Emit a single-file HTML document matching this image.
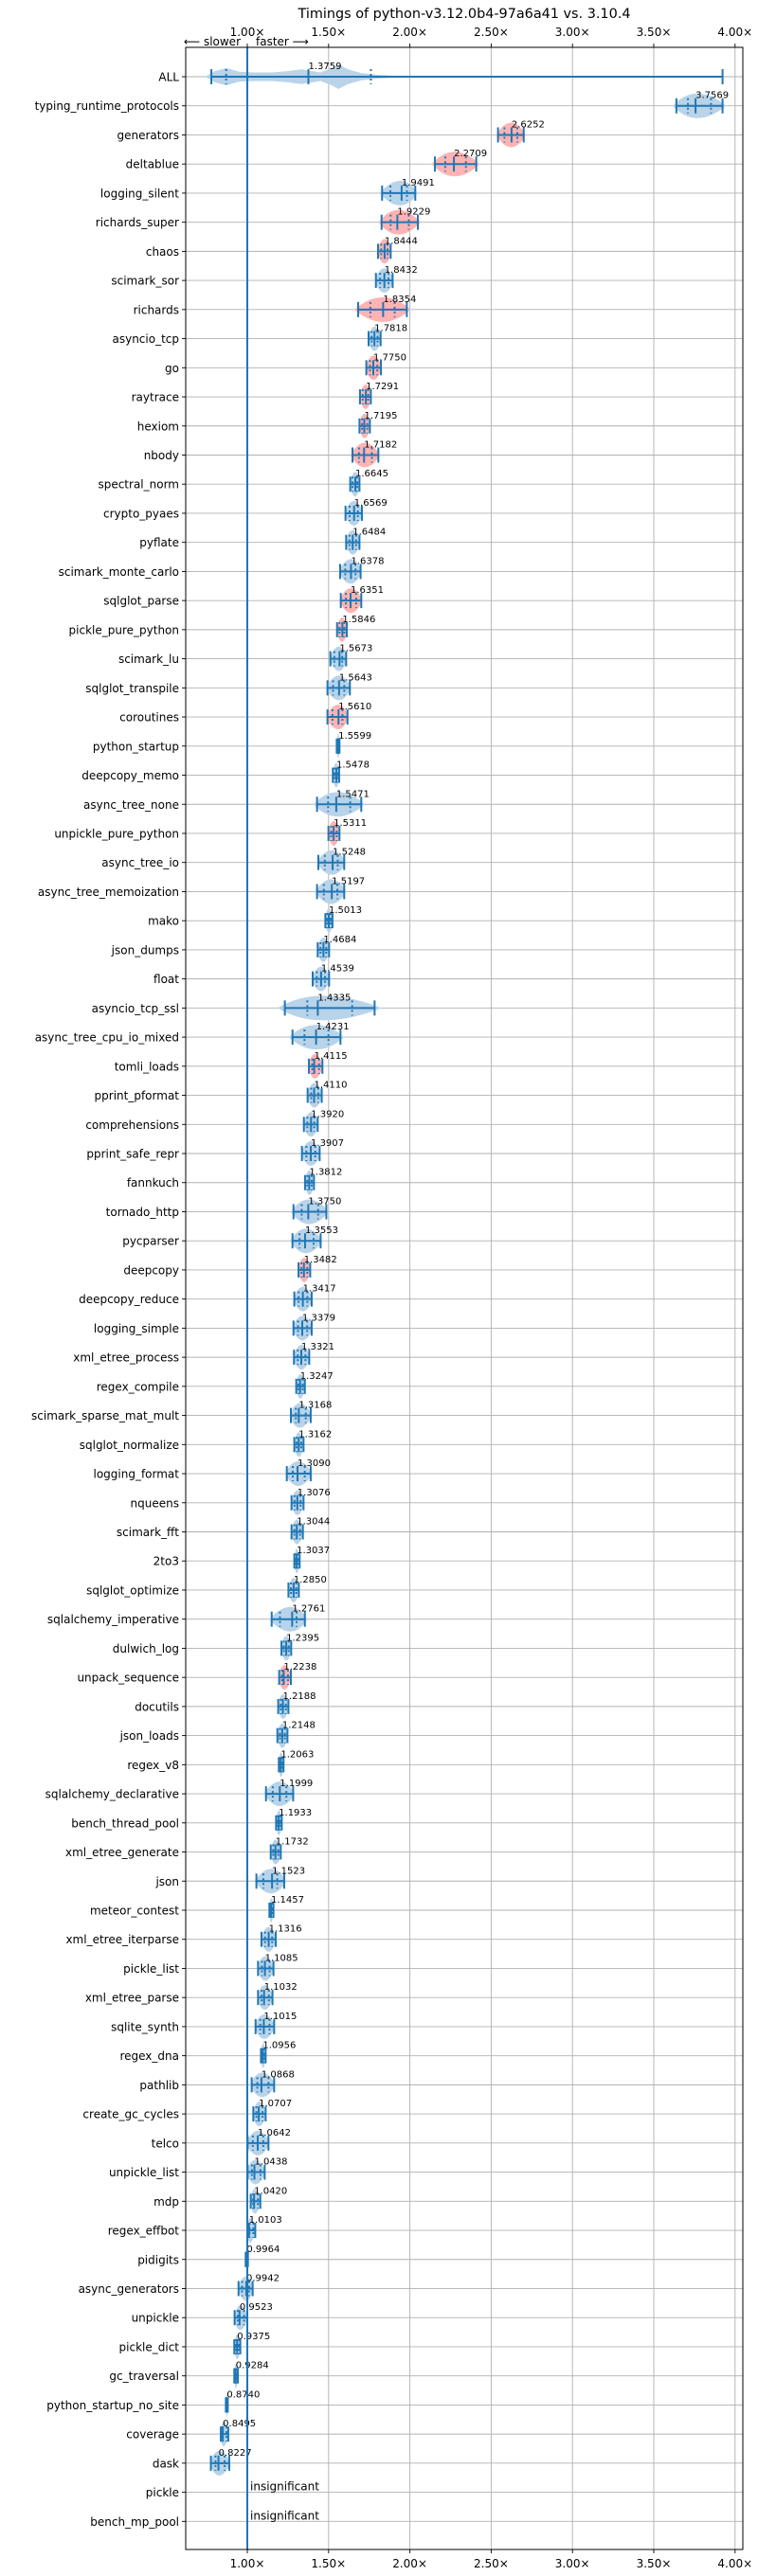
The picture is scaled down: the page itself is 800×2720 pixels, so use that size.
<!DOCTYPE html>
<html><head><meta charset="utf-8">
<style>
html,body{margin:0;padding:0;background:#fff;}
svg{display:block;font-family:"DejaVu Sans","Liberation Sans",sans-serif;}
</style></head>
<body>
<svg id="chart" width="800" height="2720" viewBox="0 0 800 2720" xmlns="http://www.w3.org/2000/svg">
<text x="490" y="19" font-size="14.4" text-anchor="middle" fill="#000">Timings of python-v3.12.0b4-97a6a41 vs. 3.10.4</text>
<text x="254" y="48" font-size="12" text-anchor="end" fill="#000">⟵ slower</text>
<text x="270" y="48" font-size="12" text-anchor="start" fill="#000">faster ⟶</text>
<g id="grid"></g>
<g id="marks"></g>
<g id="axes"></g>
</svg>
<script>
const categories = ["ALL","typing_runtime_protocols","generators","deltablue","logging_silent","richards_super","chaos","scimark_sor","richards","asyncio_tcp","go","raytrace","hexiom","nbody","spectral_norm","crypto_pyaes","pyflate","scimark_monte_carlo","sqlglot_parse","pickle_pure_python","scimark_lu","sqlglot_transpile","coroutines","python_startup","deepcopy_memo","async_tree_none","unpickle_pure_python","async_tree_io","async_tree_memoization","mako","json_dumps","float","asyncio_tcp_ssl","async_tree_cpu_io_mixed","tomli_loads","pprint_pformat","comprehensions","pprint_safe_repr","fannkuch","tornado_http","pycparser","deepcopy","deepcopy_reduce","logging_simple","xml_etree_process","regex_compile","scimark_sparse_mat_mult","sqlglot_normalize","logging_format","nqueens","scimark_fft","2to3","sqlglot_optimize","sqlalchemy_imperative","dulwich_log","unpack_sequence","docutils","json_loads","regex_v8","sqlalchemy_declarative","bench_thread_pool","xml_etree_generate","json","meteor_contest","xml_etree_iterparse","pickle_list","xml_etree_parse","sqlite_synth","regex_dna","pathlib","create_gc_cycles","telco","unpickle_list","mdp","regex_effbot","pidigits","async_generators","unpickle","pickle_dict","gc_traversal","python_startup_no_site","coverage","dask","pickle","bench_mp_pool"];
const medians = [1.3759,3.7569,2.6252,2.2709,1.9491,1.9229,1.8444,1.8432,1.8354,1.7818,1.7750,1.7291,1.7195,1.7182,1.6645,1.6569,1.6484,1.6378,1.6351,1.5846,1.5673,1.5643,1.5610,1.5599,1.5478,1.5471,1.5311,1.5248,1.5197,1.5013,1.4684,1.4539,1.4335,1.4231,1.4115,1.4110,1.3920,1.3907,1.3812,1.3750,1.3553,1.3482,1.3417,1.3379,1.3321,1.3247,1.3168,1.3162,1.3090,1.3076,1.3044,1.3037,1.2850,1.2761,1.2395,1.2238,1.2188,1.2148,1.2063,1.1999,1.1933,1.1732,1.1523,1.1457,1.1316,1.1085,1.1032,1.1015,1.0956,1.0868,1.0707,1.0642,1.0438,1.0420,1.0103,0.9964,0.9942,0.9523,0.9375,0.9284,0.8740,0.8495,0.8227,null,null];
const mins = [0.779,3.639,2.542,2.154,1.829,1.826,1.804,1.791,1.682,1.746,1.732,1.693,1.690,1.647,1.633,1.604,1.608,1.571,1.575,1.552,1.511,1.493,1.493,1.550,1.526,1.429,1.499,1.437,1.429,1.480,1.433,1.402,1.231,1.278,1.379,1.371,1.348,1.336,1.355,1.284,1.278,1.315,1.289,1.284,1.287,1.301,1.268,1.289,1.243,1.272,1.272,1.289,1.253,1.150,1.210,1.196,1.190,1.185,1.194,1.115,1.177,1.144,1.056,1.136,1.087,1.066,1.066,1.051,1.084,1.027,1.037,1.002,1.002,1.021,1.002,0.990,0.946,0.922,0.920,0.920,0.868,0.837,0.776,null,null];
const maxs = [3.923,3.923,2.700,2.408,2.033,2.049,1.882,1.894,1.981,1.820,1.822,1.760,1.754,1.806,1.690,1.705,1.690,1.697,1.701,1.612,1.608,1.631,1.616,1.567,1.565,1.701,1.567,1.596,1.596,1.524,1.503,1.503,1.783,1.573,1.462,1.458,1.433,1.445,1.410,1.486,1.451,1.387,1.396,1.396,1.381,1.354,1.390,1.346,1.390,1.346,1.342,1.322,1.317,1.354,1.270,1.268,1.253,1.247,1.223,1.282,1.212,1.206,1.227,1.161,1.175,1.161,1.155,1.165,1.113,1.165,1.113,1.130,1.107,1.080,1.049,1.004,1.033,1.000,0.957,0.942,0.880,0.883,0.889,null,null];
const slowerRed = ["generators","deltablue","richards_super","chaos","richards","go","raytrace","hexiom","nbody","sqlglot_parse","pickle_pure_python","coroutines","unpickle_pure_python","tomli_loads","deepcopy","unpack_sequence"];
const allKdeValues = [0.74,0.80,0.87,0.95,1.05,1.15,1.25,1.33,1.38,1.45,1.52,1.56,1.62,1.70,1.80,1.95,2.05];
const allKdeDensity = [0,0.45,0.7,0.4,0.35,0.35,0.45,0.6,0.5,0.35,0.7,1.0,0.6,0.3,0.15,0.05,0];
const xTicks = [1.0,1.5,2.0,2.5,3.0,3.5,4.0];
const xTickLabels = ["1.00×","1.50×","2.00×","2.50×","3.00×","3.50×","4.00×"];

const NS = "http://www.w3.org/2000/svg";
const L = 196, R = 784, T = 50, B = 2692;
const X0 = 261, XS = 171.6;
function x(v){ return X0 + (v - 1) * XS; }
function y(i){ return 81 + i * 30.73; }
const BLUE = "#1f77b4";
function mk(tag, attrs, parent){
  const e = document.createElementNS(NS, tag);
  for (const k in attrs) e.setAttribute(k, attrs[k]);
  parent.appendChild(e);
  return e;
}
const grid = document.getElementById('grid');
const marks = document.getElementById('marks');
const axes = document.getElementById('axes');

// vertical grid + ticks
xTicks.forEach((t, k) => {
  const g = mk('line', {x1:x(t), x2:x(t), y1:T, y2:B, stroke:'#b0b0b0', 'stroke-width':0.9}, grid);
  
  
  const tt = mk('line', {x1:x(t), x2:x(t), y1:T-4, y2:T, stroke:'#000', 'stroke-width':0.9}, axes);
  
  
  const tb = mk('line', {x1:x(t), x2:x(t), y1:B, y2:B+4, stroke:'#000', 'stroke-width':0.9}, axes);
  
  
  const lt = mk('text', {x:x(t), y:38, 'font-size':12, 'text-anchor':'middle', fill:'#000'}, axes);
  lt.textContent = xTickLabels[k];
  
  
  const lb = mk('text', {x:x(t), y:2711, 'font-size':12, 'text-anchor':'middle', fill:'#000'}, axes);
  lb.textContent = xTickLabels[k];
  
  
});

categories.forEach((c, i) => {
  const yy = y(i);
  const g = mk('line', {x1:L, x2:R, y1:yy, y2:yy, stroke:'#b0b0b0', 'stroke-width':0.9}, grid);
  
  
  const tk = mk('line', {x1:L-4, x2:L, y1:yy, y2:yy, stroke:'#000', 'stroke-width':0.9}, axes);
  
  
  const lab = mk('text', {x:L-7, y:yy+4.5, 'font-size':12, 'text-anchor':'end', fill:'#000'}, axes);
  lab.textContent = c;
  
  

  const m = medians[i];
  if (m === null) {
    const ins = mk('text', {x:x(1)+3, y:yy-2, 'font-size':12, fill:'#000'}, marks);
    ins.textContent = 'insignificant';
    
    
    return;
  }
  const lo = mins[i], hi = maxs[i];
  const red = slowerRed.indexOf(c) >= 0;
  const fill = red ? '#ffb3b3' : '#b9d3e9';
  // violin
  let d;
  if (i === 0) {
    const top = allKdeValues.map((v, k) => x(v) + ',' + (yy - allKdeDensity[k] * 13));
    const bot = allKdeValues.map((v, k) => x(v) + ',' + (yy + allKdeDensity[k] * 13)).reverse();
    d = 'M' + top.join(' L') + ' L' + bot.join(' L') + 'Z';
  } else {
    const span = hi - lo;
    const a = x(lo - span * 0.08), b = x(hi + span * 0.08), mx = x(m);
    const h = 13;
    d = 'M' + a + ',' + yy + ' Q' + mx + ',' + (yy - 2*h) + ' ' + b + ',' + yy + ' Q' + mx + ',' + (yy + 2*h) + ' ' + a + ',' + yy + 'Z';
  }
  const vp = mk('path', {d:d, fill:fill, stroke:'none'}, marks);
  
  
  // range line
  const rl = mk('line', {x1:x(lo), x2:x(hi), y1:yy, y2:yy, stroke:BLUE, 'stroke-width':2}, marks);
  
  
  [lo, hi, m].forEach(v => {
    const cap = mk('line', {x1:x(v), x2:x(v), y1:yy-8, y2:yy+8, stroke:BLUE, 'stroke-width':2}, marks);
    
    
  });
  const q1 = i === 0 ? 0.87 : lo + (hi - lo) * 0.25;
  const q3 = i === 0 ? 1.76 : hi - (hi - lo) * 0.25;
  [q1, q3].forEach(v => {
    const q = mk('line', {x1:x(v), x2:x(v), y1:yy-8, y2:yy+8, stroke:BLUE, 'stroke-width':2, 'stroke-dasharray':'2,3'}, marks);
    
    
  });
  const vt = mk('text', {x:x(m), y:yy-8, 'font-size':10, fill:'#000'}, marks);
  vt.textContent = m.toFixed(4);
  
  
});

// reference line at 1.0
const ref = mk('line', {x1:x(1), x2:x(1), y1:T, y2:B, stroke:BLUE, 'stroke-width':2}, marks);


// frame
const fr = mk('rect', {x:L, y:T, width:R-L, height:B-T, fill:'none', stroke:'#000', 'stroke-width':1}, axes);


</script>
</body></html>
